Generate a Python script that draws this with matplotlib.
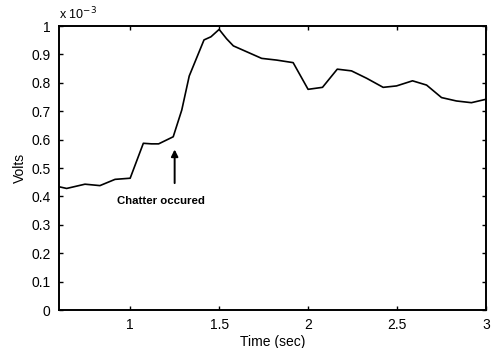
import matplotlib
matplotlib.use("Agg")
import matplotlib.pyplot as plt
import numpy as np

plt.rcParams['font.family'] = ['Liberation Sans', 'DejaVu Sans']

time_sec = [0.6, 0.643, 0.746, 0.83, 0.915, 1.0, 1.074, 1.12, 1.16, 1.242, 1.29, 1.332,
            1.415, 1.454, 1.5, 1.542, 1.58, 1.674, 1.739, 1.823, 1.916, 2.0, 2.081,
            2.164, 2.244, 2.329, 2.422, 2.497, 2.587, 2.666, 2.75, 2.834, 2.918, 3.0]
volts_e3 = [0.434, 0.428, 0.443, 0.438, 0.46, 0.464, 0.587, 0.585, 0.585, 0.61, 0.704, 0.824,
            0.951, 0.962, 0.988, 0.955, 0.93, 0.904, 0.886, 0.88, 0.871, 0.777, 0.784,
            0.848, 0.842, 0.816, 0.784, 0.789, 0.807, 0.792, 0.748, 0.736, 0.730, 0.742]
x_ticks = [1, 1.5, 2, 2.5, 3]
x_tick_labels = ['1', '1.5', '2', '2.5', '3']
y_ticks = [0, 0.1, 0.2, 0.3, 0.4, 0.5, 0.6, 0.7, 0.8, 0.9, 1.0]
y_tick_labels = ['0', '0.1', '0.2', '0.3', '0.4', '0.5', '0.6', '0.7', '0.8', '0.9', '1']
scale = 1e-3

fig = plt.figure(figsize=(4.99, 3.48), dpi=100)
ax = fig.add_axes([59/499, 1 - 310/348, (486-59)/499, (310-26)/348])

ax.plot(np.array(time_sec), np.array(volts_e3) * scale, color='black', lw=1.2)
ax.set_xlim(0.6, 3.0)
ax.set_ylim(0, 1.0 * scale)
ax.set_xticks(x_ticks)
ax.set_xticklabels(x_tick_labels)
ax.set_yticks([v * scale for v in y_ticks])
ax.set_yticklabels(y_tick_labels)
ax.tick_params(direction='in', top=True, right=True, labelsize=10, length=3, width=1, pad=6)
for s in ax.spines.values():
    s.set_linewidth(1.4)

ax.set_xlabel('Time (sec)', fontsize=10, labelpad=2)
ax.set_ylabel('Volts', fontsize=10, labelpad=3)
ax.text(0.0, 1.012, 'x 10$^{-3}$', transform=ax.transAxes, fontsize=9, ha='left', va='bottom')

ax.annotate('', xy=(1.25, 0.575 * scale), xytext=(1.25, 0.437 * scale),
            arrowprops=dict(arrowstyle='-|>', color='black', lw=1.4, mutation_scale=10))
ax.text(1.172, 0.385 * scale, 'Chatter occured', fontsize=8.2, fontweight='bold',
        ha='center', va='center')

fig.savefig('out.png', dpi=100)
